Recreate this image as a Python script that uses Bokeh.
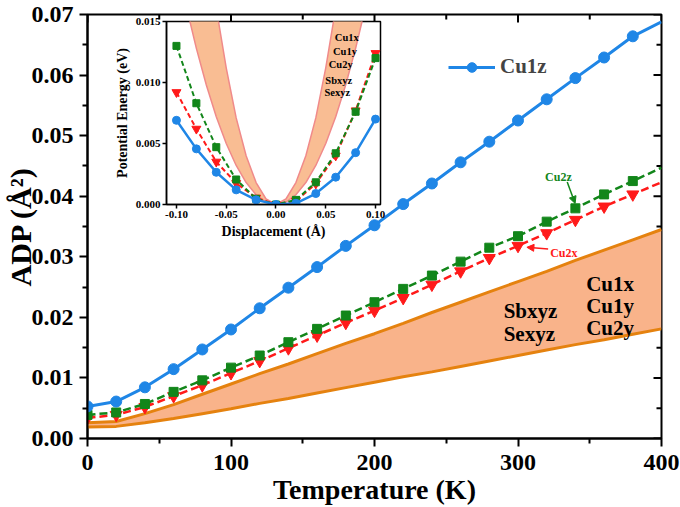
import math
from bokeh.plotting import figure
from bokeh.models import (Range1d, FixedTicker, Label, Arrow, NormalHead, Legend, LegendItem)
from bokeh.layouts import column
from bokeh.embed import file_html
from bokeh.resources import INLINE

# ---------------- main chart data ----------------
temperature = [0, 20, 40, 60, 80, 100, 120, 140, 160, 180, 200,
               220, 240, 260, 280, 300, 320, 340, 360, 380, 400]
cu1z = [0.0053, 0.0061, 0.00845, 0.01145, 0.0147, 0.0180, 0.0215, 0.0249,
        0.0283, 0.0318, 0.0352, 0.0387, 0.0421, 0.0456, 0.0490, 0.0525,
        0.0560, 0.0595, 0.0629, 0.0664, 0.0688]
cu2z = [0.0039, 0.0043, 0.0057, 0.0077, 0.0096, 0.0117, 0.0137, 0.0159,
        0.0181, 0.0203, 0.0225, 0.0247, 0.0269, 0.0292, 0.0315, 0.0334,
        0.0358, 0.0380, 0.0403, 0.0425, 0.0447]
cu2x = [0.0034, 0.0039, 0.0052, 0.0070, 0.0088, 0.0108, 0.0128, 0.0149,
        0.0170, 0.0191, 0.0211, 0.0232, 0.0254, 0.0276, 0.0298, 0.0318,
        0.0339, 0.0361, 0.0383, 0.0403, 0.0423]
band_upper = [0.0026, 0.0028, 0.0041, 0.0056, 0.0073, 0.0090, 0.0107, 0.0123,
              0.0140, 0.0157, 0.0173, 0.0190, 0.0208, 0.0225, 0.0242, 0.0259,
              0.0276, 0.0294, 0.0311, 0.0328, 0.0345]
band_lower = [0.0019, 0.0020, 0.0026, 0.0033, 0.0041, 0.0049, 0.0058, 0.0066,
              0.0075, 0.0084, 0.0093, 0.0102, 0.0110, 0.0119, 0.0128, 0.0137,
              0.0146, 0.0155, 0.0163, 0.0172, 0.0181]

x_ticks = [0, 100, 200, 300, 400]
x_minor = [50, 150, 250, 350]
y_ticks = [0.0, 0.01, 0.02, 0.03, 0.04, 0.05, 0.06, 0.07]
y_tick_labels = ["0.00", "0.01", "0.02", "0.03", "0.04", "0.05", "0.06", "0.07"]
y_minor = [0.005, 0.015, 0.025, 0.035, 0.045, 0.055, 0.065]

# ---------------- inset data ----------------
disp = [-0.10, -0.08, -0.06, -0.04, -0.02, 0.0, 0.02, 0.04, 0.06, 0.08, 0.10]
e_cu1z = [0.0069, 0.00456, 0.00264, 0.0012, 0.00038, 0.0, 0.0001, 0.0009,
          0.00224, 0.00425, 0.0070]
e_cu2z = [0.0130, 0.0083, 0.0047, 0.00205, 0.00047, 0.0, 0.00038, 0.00182,
          0.0042, 0.0076, 0.0120]
e_cu2x = [0.0092, 0.0062, 0.0035, 0.00175, 0.00055, 0.0, 0.0003, 0.0017,
          0.0040, 0.0077, 0.0124]
band_disp = [-0.09, -0.08, -0.07, -0.06, -0.05, -0.04, -0.03, -0.02, -0.01, 0.0,
             0.01, 0.02, 0.03, 0.04, 0.05, 0.06, 0.07, 0.08, 0.09]
band_outer = [0.0162, 0.0128, 0.0098, 0.0072, 0.0050, 0.0032, 0.0018, 0.0008,
              0.0002, 0.0, 0.0002, 0.0008, 0.0018, 0.0032, 0.0050, 0.0072,
              0.0098, 0.0128, 0.0162]
band_inner = [0.0361, 0.0285, 0.0219, 0.0161, 0.0112, 0.0071, 0.0040, 0.0018,
              0.00045, 0.0, 0.00045, 0.0018, 0.0040, 0.0071, 0.0112, 0.0161,
              0.0219, 0.0285, 0.0361]
ix_ticks = [-0.10, -0.05, 0.0, 0.05, 0.10]
ix_tick_labels = ["-0.10", "-0.05", "0.00", "0.05", "0.10"]
iy_ticks = [0.0, 0.005, 0.010, 0.015]
iy_tick_labels = ["0.000", "0.005", "0.010", "0.015"]

FONT = "Liberation Serif"
BLUE = "#1f86e6"
GREEN = "#12861a"
RED = "#ff1a1a"
ORANGE = "#e5820f"
ORANGE_FILL = "#f9b38a"

# ================= main figure =================
p = figure(width=680, height=507, x_range=Range1d(0, 400), y_range=Range1d(0, 0.07),
           output_backend="svg", toolbar_location=None,
           min_border_left=86, min_border_right=19, min_border_top=14, min_border_bottom=68)
p.grid.visible = False
p.outline_line_color = "black"
p.outline_line_width = 2
p.background_fill_color = "white"
p.border_fill_color = "white"

p.xaxis.ticker = FixedTicker(ticks=x_ticks, minor_ticks=x_minor)
p.yaxis.ticker = FixedTicker(ticks=y_ticks, minor_ticks=y_minor)
p.yaxis.major_label_overrides = {t: l for t, l in zip(y_ticks, y_tick_labels)}
p.xaxis.axis_label = "Temperature (K)"
p.yaxis.axis_label = "ADP (Å²)"
for ax in (p.xaxis[0], p.yaxis[0]):
    ax.axis_line_width = 2
    ax.major_tick_line_width = 2
    ax.minor_tick_line_width = 2
    ax.major_tick_out = 8
    ax.major_tick_in = 0
    ax.minor_tick_out = 5
    ax.minor_tick_in = 0
    ax.major_label_text_font = FONT
    ax.major_label_text_font_style = "bold"
    ax.major_label_text_font_size = "24px"
    ax.major_label_text_color = "black"
    ax.axis_label_text_font = FONT
    ax.axis_label_text_font_style = "bold"
    ax.axis_label_text_color = "black"
p.xaxis.major_label_standoff = 8
p.xaxis.axis_label_text_font_size = "28px"
p.xaxis.axis_label_standoff = 1
p.yaxis.major_label_standoff = 6
p.yaxis.axis_label_text_font_size = "30px"
p.yaxis.axis_label_standoff = -8

# inward mirror ticks on the top and right frame edges (half of each dash is clipped)
y_top = [p.y_range.end] * len(x_ticks)
p.scatter(x_ticks, y_top, marker="dash", angle=math.pi / 2, size=16,
          line_color="black", line_width=2)
p.scatter(x_minor, [p.y_range.end] * len(x_minor), marker="dash", angle=math.pi / 2,
          size=10, line_color="black", line_width=2)
p.scatter([p.x_range.end] * len(y_ticks), y_ticks, marker="dash", size=16,
          line_color="black", line_width=2)
p.scatter([p.x_range.end] * len(y_minor), y_minor, marker="dash", size=10,
          line_color="black", line_width=2)

# orange band
p.varea(x=temperature, y1=band_lower, y2=band_upper, fill_color=ORANGE_FILL)
p.line(temperature, band_upper, line_color=ORANGE, line_width=3)
p.line(temperature, band_lower, line_color=ORANGE, line_width=3)

# Cu2x (red)
p.line(temperature, cu2x, line_color=RED, line_width=2.5, line_dash="8 4")
p.scatter(temperature[:-1], cu2x[:-1], marker="inverted_triangle", size=12,
          fill_color=RED, line_color=RED)
# Cu2z (green)
p.line(temperature, cu2z, line_color=GREEN, line_width=2.5, line_dash="8 4")
p.scatter(temperature[:-1], cu2z[:-1], marker="square", size=9,
          fill_color=GREEN, line_color=GREEN)
# Cu1z (blue)
l_cu1z = p.line(temperature, cu1z, line_color=BLUE, line_width=3)
s_cu1z = p.scatter(temperature[:-1], cu1z[:-1], marker="circle", size=11,
                   fill_color=BLUE, line_color=BLUE)

legend = Legend(items=[LegendItem(label="Cu1z", renderers=[l_cu1z, s_cu1z])],
                location=(361, 359), glyph_width=47, glyph_height=24, label_height=24,
                label_standoff=5, padding=0, margin=0, border_line_color=None,
                background_fill_alpha=0, label_text_font=FONT,
                label_text_font_style="bold", label_text_font_size="21px")
p.add_layout(legend)


def note(fig, text, x, y, size, color="black"):
    fig.add_layout(Label(x=x, y=y, text=text, text_font=FONT, text_font_style="bold",
                         text_font_size=size, text_color=color,
                         text_baseline="alphabetic", text_align="left"))


note(p, "Cu1x", 347.5, 0.02547, "21px")
note(p, "Cu1y", 347.5, 0.02192, "21px")
note(p, "Cu2y", 347.5, 0.0182, "21px")
note(p, "Sbxyz", 290, 0.0211, "21px")
note(p, "Sexyz", 290, 0.01729, "21px")
note(p, "Cu2z", 318.9, 0.04318, "12px", GREEN)
note(p, "Cu2x", 322.4, 0.03063, "12px", RED)
p.add_layout(Arrow(x_start=334.3, y_start=0.04236, x_end=339.8, y_end=0.03881,
                   line_color=GREEN, line_width=1.5,
                   end=NormalHead(size=7, fill_color=GREEN, line_color=GREEN)))
p.add_layout(Arrow(x_start=321.0, y_start=0.03129, x_end=306.2, y_end=0.03157,
                   line_color=RED, line_width=1.5,
                   end=NormalHead(size=7, fill_color=RED, line_color=RED)))

# ================= inset figure =================
q = figure(width=320, height=233, x_range=Range1d(-0.11, 0.105), y_range=Range1d(0, 0.015),
           output_backend="svg", toolbar_location=None,
           min_border_left=56, min_border_right=16, min_border_top=10, min_border_bottom=40,
           margin=(-496, 0, 0, 79))
q.grid.visible = False
q.border_fill_color = None
q.border_fill_alpha = 0
q.background_fill_color = "white"
q.outline_line_color = "black"
q.outline_line_width = 1.5
q.xaxis.ticker = FixedTicker(ticks=ix_ticks, minor_ticks=[])
q.yaxis.ticker = FixedTicker(ticks=iy_ticks, minor_ticks=[])
q.xaxis.major_label_overrides = {t: l for t, l in zip(ix_ticks, ix_tick_labels)}
q.yaxis.major_label_overrides = {t: l for t, l in zip(iy_ticks, iy_tick_labels)}
q.xaxis.axis_label = "Displacement (Å)"
q.yaxis.axis_label = "Potential Energy (eV)"
for ax in (q.xaxis[0], q.yaxis[0]):
    ax.axis_line_width = 1.5
    ax.major_tick_line_width = 1.5
    ax.major_tick_out = 4
    ax.major_tick_in = 0
    ax.major_label_text_font = FONT
    ax.major_label_text_font_style = "bold"
    ax.major_label_text_font_size = "11px"
    ax.major_label_text_color = "black"
    ax.major_label_standoff = 2
    ax.axis_label_text_font = FONT
    ax.axis_label_text_font_style = "bold"
    ax.axis_label_text_font_size = "14px"
    ax.axis_label_text_color = "black"
    ax.axis_label_standoff = 3

q.varea(x=band_disp, y1=band_outer, y2=band_inner, fill_color="#f9bd93")
q.line(band_disp, band_outer, line_color="#f08a8a", line_width=1.5)
q.line(band_disp, band_inner, line_color="#f08a8a", line_width=1.5)

q.line(disp, e_cu2x, line_color=RED, line_width=2, line_dash="5 3")
q.scatter(disp, e_cu2x, marker="inverted_triangle", size=9, fill_color=RED, line_color=RED)
q.line(disp, e_cu2z, line_color=GREEN, line_width=2, line_dash="5 3")
q.scatter(disp, e_cu2z, marker="square", size=7, fill_color=GREEN, line_color=GREEN)
q.line(disp, e_cu1z, line_color=BLUE, line_width=2.5)
q.scatter(disp, e_cu1z, marker="circle", size=8, fill_color=BLUE, line_color=BLUE)

note(q, "Cu1x", 0.0591, 0.01366, "10.5px")
note(q, "Cu1y", 0.0573, 0.01254, "10.5px")
note(q, "Cu2y", 0.0530, 0.01151, "10.5px")
note(q, "Sbxyz", 0.0496, 0.01015, "10.5px")
note(q, "Sexyz", 0.0487, 0.00914, "10.5px")

layout = column(p, q)
open("out.html", "w").write(file_html(layout, INLINE))
